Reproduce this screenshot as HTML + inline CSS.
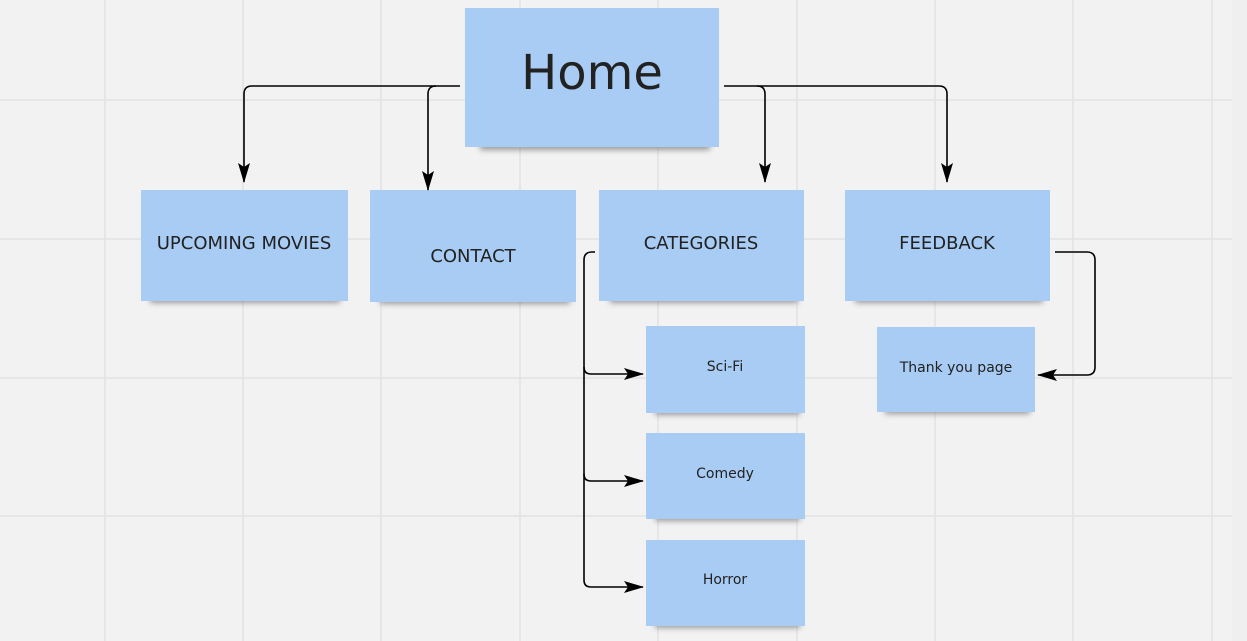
<!DOCTYPE html>
<html><head><meta charset="utf-8"><style>
html,body{margin:0;padding:0;background:#f2f2f2;}
svg{display:block;}
text{font-family:"DejaVu Sans","Liberation Sans",sans-serif;fill:#222;text-anchor:middle;}
</style></head><body>
<svg width="1247" height="641" viewBox="0 0 1247 641" xmlns="http://www.w3.org/2000/svg">
<defs>
<filter id="sh" x="-10%" y="-10%" width="120%" height="140%"><feGaussianBlur stdDeviation="3"/></filter>
<marker id="ar" markerWidth="20" markerHeight="12" refX="19" refY="6" orient="auto" markerUnits="userSpaceOnUse"><path d="M0,0 L20,6 L0,12 L4,6 Z" fill="#000"/></marker>
</defs>
<rect width="1247" height="641" fill="#f2f2f2"/>
<g stroke="#e2e2e2" stroke-width="1.5">
<line x1="105" y1="0" x2="105" y2="641"/><line x1="243" y1="0" x2="243" y2="641"/><line x1="381" y1="0" x2="381" y2="641"/><line x1="520" y1="0" x2="520" y2="641"/><line x1="658" y1="0" x2="658" y2="641"/><line x1="797" y1="0" x2="797" y2="641"/><line x1="935" y1="0" x2="935" y2="641"/><line x1="1073" y1="0" x2="1073" y2="641"/><line x1="1212" y1="0" x2="1212" y2="641"/>
<line x1="0" y1="100" x2="1247" y2="100"/><line x1="0" y1="239" x2="1247" y2="239"/><line x1="0" y1="378" x2="1247" y2="378"/><line x1="0" y1="516" x2="1247" y2="516"/>
</g>
<rect x="1232" y="0" width="15" height="641" fill="#efefef"/>
<g fill="#555" opacity="0.55" filter="url(#sh)">
<rect x="480" y="138" width="230" height="12"/>
<rect x="150" y="292" width="190" height="11"/>
<rect x="380" y="293" width="190" height="11"/>
<rect x="610" y="292" width="188" height="11"/>
<rect x="855" y="292" width="188" height="11"/>
<rect x="655" y="405" width="145" height="10"/>
<rect x="655" y="511" width="145" height="10"/>
<rect x="655" y="618" width="145" height="10"/>
<rect x="885" y="404" width="145" height="10"/>
</g>
<g fill="#a8ccf3">
<rect x="465" y="8" width="254" height="139"/>
<rect x="141" y="190" width="207" height="111"/>
<rect x="370" y="190" width="206" height="112"/>
<rect x="599" y="190" width="205" height="111"/>
<rect x="845" y="190" width="205" height="111"/>
<rect x="646" y="326" width="159" height="87"/>
<rect x="646" y="433" width="159" height="86"/>
<rect x="646" y="540" width="159" height="86"/>
<rect x="877" y="327" width="158" height="85"/>
</g>
<text x="592" y="89" font-size="48">Home</text>
<text x="244" y="249" font-size="18">UPCOMING MOVIES</text>
<text x="473" y="262" font-size="18">CONTACT</text>
<text x="701" y="249" font-size="18">CATEGORIES</text>
<text x="947" y="249" font-size="18">FEEDBACK</text>
<text x="725" y="371" font-size="14">Sci-Fi</text>
<text x="725" y="478" font-size="14">Comedy</text>
<text x="725" y="584" font-size="14">Horror</text>
<text x="956" y="372" font-size="14">Thank you page</text>
<g fill="none" stroke="#000" stroke-width="1.6">
<path d="M460,86 H252 Q244,86 244,94 V182" marker-end="url(#ar)"/>
<path d="M436,86 Q428,86 428,94 V190" marker-end="url(#ar)"/>
<path d="M724,86 H939 Q947,86 947,94 V182" marker-end="url(#ar)"/>
<path d="M757,86 Q765,86 765,94 V182" marker-end="url(#ar)"/>
<path d="M595,252 H592 Q584,252 584,260 V580 Q584,587 591,587 H643" marker-end="url(#ar)"/>
<path d="M584,367 Q584,374 591,374 H643" marker-end="url(#ar)"/>
<path d="M584,474 Q584,481 591,481 H643" marker-end="url(#ar)"/>
<path d="M1055,252 H1087 Q1095,252 1095,260 V367 Q1095,375 1087,375 H1038" marker-end="url(#ar)"/>
</g>
</svg>
</body></html>
